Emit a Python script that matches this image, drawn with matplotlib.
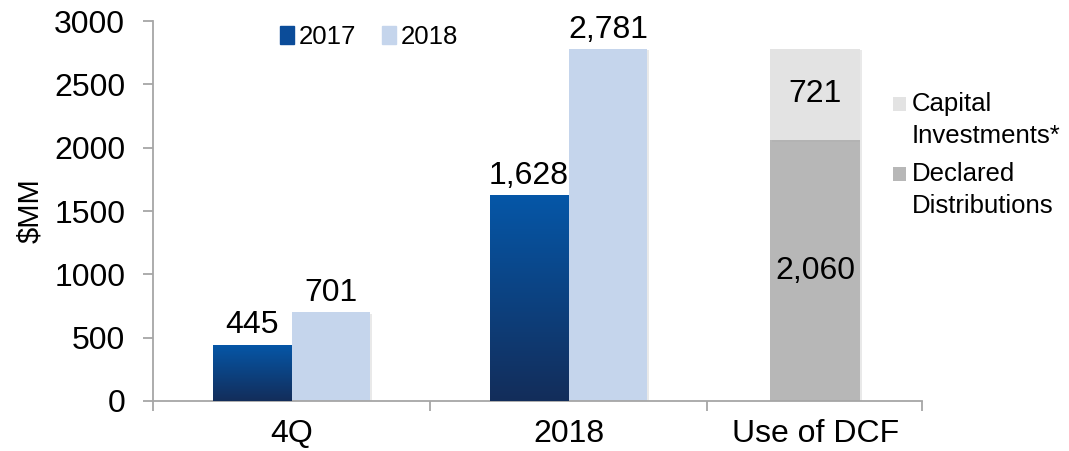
"""Recreate the 4Q / 2018 DCF bar chart with Use-of-DCF stacked bar."""

import matplotlib
matplotlib.use("Agg")
import matplotlib.pyplot as plt
import matplotlib.patheffects as pe
import numpy as np
from matplotlib.colors import LinearSegmentedColormap
from matplotlib.patches import Patch, Rectangle

plt.rcParams["font.family"] = ["Liberation Sans", "DejaVu Sans"]

# ---- data -------------------------------------------------------------
groups = ["4Q", "2018"]
vals_2017 = [445, 1628]
vals_2018 = [701, 2781]
dcf_label = "Use of DCF"
declared_distributions = 2060
capital_investments = 721
yticks = [0, 500, 1000, 1500, 2000, 2500, 3000]
dcf_legend = ["Capital\nInvestments*", "Declared\nDistributions"]

# ---- style --------------------------------------------------------------
C_TOP, C_BOT = "#0557A8", "#132D5A"
C_2018 = "#C5D5EC"
C_DIST = "#B7B7B7"
C_CAP = "#E3E3E3"
AXIS_GREY = "#A6A6A6"
FS = 23
FIG_W, FIG_H = 1069, 451
grad = LinearSegmentedColormap.from_list("blu", [C_BOT, C_TOP])
shadow = [pe.SimplePatchShadow(offset=(1.2, -1.2), shadow_rgbFace="#aaaaaa", alpha=0.25), pe.Normal()]

W = 0.285          # grouped bar width (category units)
X_END = 2.776      # last category is narrower in the original
DCF_X, DCF_W = 2.39, 0.325

fig = plt.figure(figsize=(FIG_W / 100, FIG_H / 100), dpi=100)
ax = fig.add_axes([153 / FIG_W, 50 / FIG_H, 769 / FIG_W, 380 / FIG_H])

centers = np.arange(len(groups)) + 0.5
bars17 = ax.bar(centers - W / 2, vals_2017, W, color=C_TOP, zorder=2)
bars18 = ax.bar(centers + W / 2, vals_2018, W, color=C_2018, zorder=2)
b_dist = ax.bar([DCF_X], [declared_distributions], DCF_W, color=C_DIST, zorder=2)
b_cap = ax.bar([DCF_X], [capital_investments], DCF_W, bottom=[declared_distributions],
               color=C_CAP, zorder=2)

for b in list(bars18) + list(b_dist) + list(b_cap):
    b.set_path_effects(shadow)

# vertical gradient fill for the 2017 bars, clipped to each bar
for b in bars17:
    b.set_path_effects(shadow)
    x0, y0, w, h = b.get_x(), b.get_y(), b.get_width(), b.get_height()
    g = np.linspace(0, 1, 256).reshape(-1, 1)
    im = ax.imshow(g, cmap=grad, origin="lower", aspect="auto",
                   extent=(x0, x0 + w, y0, y0 + h), zorder=3)
    im.set_clip_path(b)

# value labels
for b, v in list(zip(bars17, vals_2017)) + list(zip(bars18, vals_2018)):
    ax.annotate(f"{v:,}", (b.get_x() + b.get_width() / 2, v), xytext=(0, 3),
                textcoords="offset points", ha="center", va="bottom", fontsize=FS)
ax.text(DCF_X, declared_distributions / 2, f"{declared_distributions:,}",
        ha="center", va="center", fontsize=FS, zorder=4)
ax.text(DCF_X, declared_distributions + capital_investments / 2, f"{capital_investments:,}",
        ha="center", va="center", fontsize=FS, zorder=4)

# axes
ax.set_xlim(0, X_END)
ax.set_ylim(0, 3000)
ax.set_yticks(yticks)
ax.set_xticks([0, 1, 2, X_END])
ax.set_xticklabels([])
ax.set_xticks(list(centers) + [DCF_X], minor=True)
ax.set_xticklabels(groups + [dcf_label], minor=True)
ax.tick_params(axis="x", which="minor", length=0, pad=13, labelsize=FS)
ax.tick_params(axis="x", which="major", length=7, width=1.3, color=AXIS_GREY)
ax.tick_params(axis="y", length=7, width=1.3, color=AXIS_GREY, pad=13, labelsize=FS)
for s in ("top", "right"):
    ax.spines[s].set_visible(False)
for s in ("left", "bottom"):
    ax.spines[s].set_color(AXIS_GREY)
    ax.spines[s].set_linewidth(1.3)
ax.set_ylabel("$MM", fontsize=21)
ax.yaxis.set_label_coords(-0.142, 0.5)

# top legend (series)
leg1 = ax.legend([Patch(color="#0B4C99"), Patch(color=C_2018)], ["2017", "2018"],
                 ncol=2, frameon=False, fontsize=18.5, loc="center",
                 bbox_to_anchor=((369 - 153) / 769, 0.958), handlelength=0.55, handleheight=0.7,
                 handletextpad=0.2, columnspacing=1.0)

# right legend (use of DCF): square sits on the first text line, as in the original
for (label, color), y_top in zip(zip(dcf_legend, [C_CAP, C_DIST]), [97, 167]):
    fig.add_artist(Rectangle((893 / FIG_W, 1 - (y_top + 14) / FIG_H), 13 / FIG_W, 14 / FIG_H,
                             transform=fig.transFigure, color=color, lw=0))
    fig.text(912 / FIG_W, 1 - (y_top - 5) / FIG_H, label, ha="left", va="top",
             fontsize=18.5, linespacing=1.4)

fig.savefig("out.png", dpi=100)
